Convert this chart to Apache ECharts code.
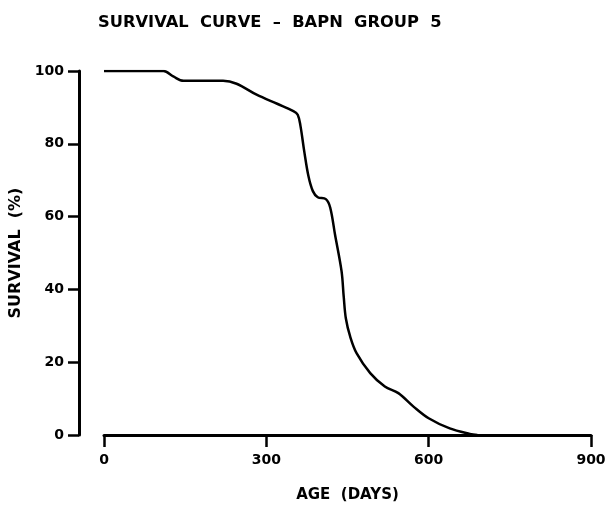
<!DOCTYPE html>
<html>
<head>
<meta charset="utf-8">
<script src="https://cdn.jsdelivr.net/npm/echarts@6/dist/echarts.min.js"></script>
<style>html,body{margin:0;padding:0;background:#fff}#c{width:606px;height:506px}</style>
</head>
<body>
<div id="c"></div>
<script>
const titleText = "SURVIVAL  CURVE  \u2013  BAPN  GROUP  5";
const xName = "AGE  (DAYS)";
const yName = "SURVIVAL  (%)";
const xTicks = [0, 300, 600, 900];
const yTicks = [0, 20, 40, 60, 80, 100];
const ageDays = [0, 110, 128, 147, 220, 245, 282, 320, 350, 358, 363, 370, 378, 386, 395, 410, 418, 427, 439, 443, 447, 455, 467, 492, 519, 544, 572, 600, 639, 676, 690];
const survival = [100, 100, 98.5, 97.3, 97.3, 96.5, 93.5, 91, 89, 88, 85, 78, 71, 67, 65.3, 64.8, 62.5, 55, 45, 38, 32, 27, 22.4, 17, 13.3, 11.5, 7.8, 4.6, 1.8, 0.3, 0];

const font = "DejaVu Sans";
const chart = echarts.init(document.getElementById('c'), null, {renderer: 'canvas'});
chart.setOption({
  animation: false,
  backgroundColor: '#fff',
  title: {
    text: titleText, left: 93, top: 10,
    textStyle: {fontFamily: font, fontWeight: 'bold', fontSize: 16.3, color: '#000'}
  },
  grid: {left: 104, right: 15, top: 71, bottom: 71, containLabel: false, outerBoundsMode: 'none'},
  xAxis: {
    type: 'value', min: xTicks[0], max: xTicks[xTicks.length - 1], interval: 300,
    name: xName, nameLocation: 'middle', nameGap: 53,
    nameTextStyle: {fontFamily: font, fontWeight: 'bold', fontSize: 15, color: '#000'},
    axisLine: {onZero: false, lineStyle: {color: '#000', width: 3}},
    axisTick: {length: 12, lineStyle: {color: '#000', width: 2.5}},
    axisLabel: {margin: 18, fontFamily: font, fontWeight: 'bold', fontSize: 14, color: '#000'},
    splitLine: {show: false}
  },
  yAxis: {
    type: 'value', min: yTicks[0], max: yTicks[yTicks.length - 1], interval: 20,
    offset: 25,
    name: yName, nameLocation: 'middle', nameGap: 42, nameRotate: 90,
    nameTextStyle: {fontFamily: font, fontWeight: 'bold', fontSize: 16, color: '#000'},
    axisLine: {show: true, onZero: false, lineStyle: {color: '#000', width: 3}},
    axisTick: {show: true, length: 11, lineStyle: {color: '#000', width: 2.5}},
    axisLabel: {margin: 15, fontFamily: font, fontWeight: 'bold', fontSize: 14, color: '#000'},
    splitLine: {show: false}
  },
  series: [{
    type: 'line',
    data: ageDays.map((d, i) => [d, survival[i]]),
    showSymbol: false,
    smooth: 0.35,
    lineStyle: {color: '#000', width: 2.5},
    z: 3
  }]
});
</script>
</body>
</html>
